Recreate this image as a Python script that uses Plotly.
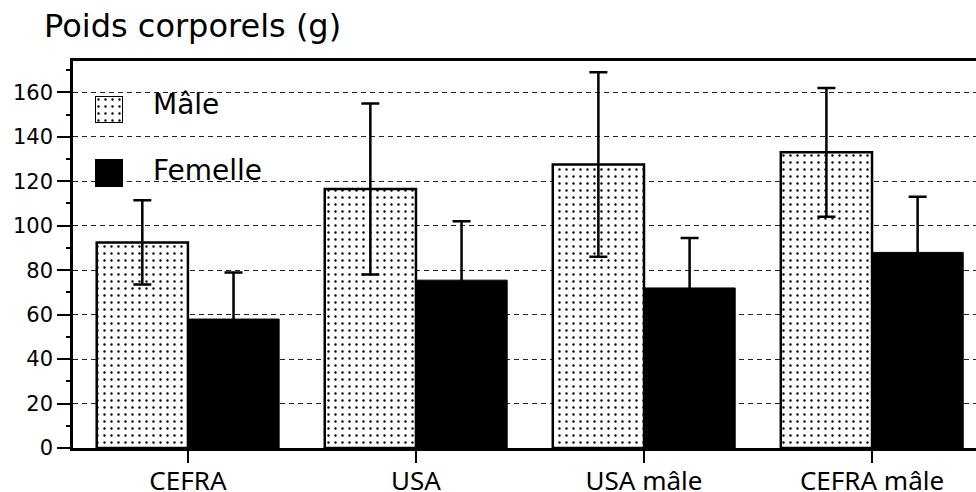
import plotly.graph_objects as go

categories = ["CEFRA", "USA", "USA mâle", "CEFRA mâle"]
male = [92.5, 116.5, 127.5, 133]
male_err = [19, 38.5, 41.5, 29]
female = [58, 75.5, 72, 88]
female_err = [21, 26.5, 22.5, 25]
y_ticks = [0, 20, 40, 60, 80, 100, 120, 140, 160]
series_names = ["Mâle", "Femelle"]

W, H = 976, 492
ml, mr, mt, mb = 73, 0, 61, 44
pw, ph = W - ml - mr, H - mt - mb

def px_x(x):
    return (x - ml) / pw

def px_y(y):
    return (H - mb - y) / ph

dot = dict(shape=".", size=7, solidity=0.09, fgcolor="black", bgcolor="white", fillmode="replace")

fig = go.Figure()
fig.add_trace(go.Bar(
    x=categories, y=male, name=series_names[0],
    marker=dict(color="white", pattern=dot, line=dict(color="black", width=2.5)),
    error_y=dict(type="data", array=male_err, color="black", thickness=2.5, width=9),
    showlegend=False,
))
fig.add_trace(go.Bar(
    x=categories, y=female, name=series_names[1],
    marker=dict(color="black", line=dict(color="black", width=1)),
    error_y=dict(type="data", array=female_err, color="black", thickness=2.5, width=9),
    showlegend=False,
))

# legend swatches (own tiny axes)
fig.add_trace(go.Bar(x=[0], y=[1], width=[1], xaxis="x2", yaxis="y2", showlegend=False, hoverinfo="skip",
                     marker=dict(color="white", pattern=dot, line=dict(color="black", width=2))))
fig.add_trace(go.Bar(x=[0], y=[1], width=[1], xaxis="x3", yaxis="y3", showlegend=False, hoverinfo="skip",
                     marker=dict(color="black", line=dict(color="black", width=1))))
# carrier for the minor-tick axis
fig.add_trace(go.Scatter(x=[], y=[], yaxis="y4", showlegend=False, hoverinfo="skip"))

minor_ticks = [t + 10 for t in y_ticks]

hidden = dict(visible=False, fixedrange=True)
fig.update_layout(
    width=W, height=H,
    margin=dict(l=ml, r=mr, t=mt, b=mb),
    paper_bgcolor="white", plot_bgcolor="white",
    barmode="group", bargap=0.2, bargroupgap=0,
    font=dict(family="DejaVu Sans", color="black"),
    title=dict(text="Poids corporels (g)", font=dict(family="DejaVu Sans", size=32, color="black"),
               xref="container", x=44 / W, xanchor="left",
               yref="container", y=1 - 26 / H, yanchor="middle"),
    xaxis=dict(range=[-0.504, 3.456], showline=True, mirror=True, linecolor="black", linewidth=2.5,
               ticks="outside", ticklen=12, tickwidth=2, tickcolor="black", automargin=False,
               ticklabelstandoff=-4,
               tickfont=dict(family="Noto Sans", size=26, color="black"), showgrid=False, zeroline=False),
    yaxis=dict(range=[0, 174.1], tickvals=y_ticks, showline=True, linecolor="black", linewidth=2.5,
               ticks="outside", ticklen=13, tickwidth=2, tickcolor="black", automargin=False,
               tickfont=dict(family="DejaVu Sans", size=21, color="black"),
               showgrid=True, gridcolor="#222", gridwidth=1, griddash="5px,4px", zeroline=False),
    yaxis4=dict(range=[0, 174.1], overlaying="y", side="left", tickvals=minor_ticks, showticklabels=False,
                ticks="outside", ticklen=6, tickwidth=2, tickcolor="black", showgrid=False, showline=False,
                zeroline=False, automargin=False, fixedrange=True),
    xaxis2=dict(domain=[px_x(95), px_x(123)], range=[-0.5, 0.5], anchor="y2", **hidden),
    yaxis2=dict(domain=[px_y(123), px_y(96)], range=[0, 1], anchor="x2", **hidden),
    xaxis3=dict(domain=[px_x(95), px_x(123)], range=[-0.5, 0.5], anchor="y3", **hidden),
    yaxis3=dict(domain=[px_y(187), px_y(159)], range=[0, 1], anchor="x3", **hidden),
    annotations=[
        dict(text=series_names[0], xref="paper", yref="paper", x=px_x(151), y=px_y(104),
             xanchor="left", yanchor="middle", showarrow=False, font=dict(family="DejaVu Sans", size=28)),
        dict(text=series_names[1], xref="paper", yref="paper", x=px_x(151), y=px_y(170),
             xanchor="left", yanchor="middle", showarrow=False, font=dict(family="DejaVu Sans", size=28)),
    ],
)

fig.write_html("out.html", config={"displayModeBar": False},
               post_script="document.body.style.margin='0';document.body.style.overflow='hidden';")
